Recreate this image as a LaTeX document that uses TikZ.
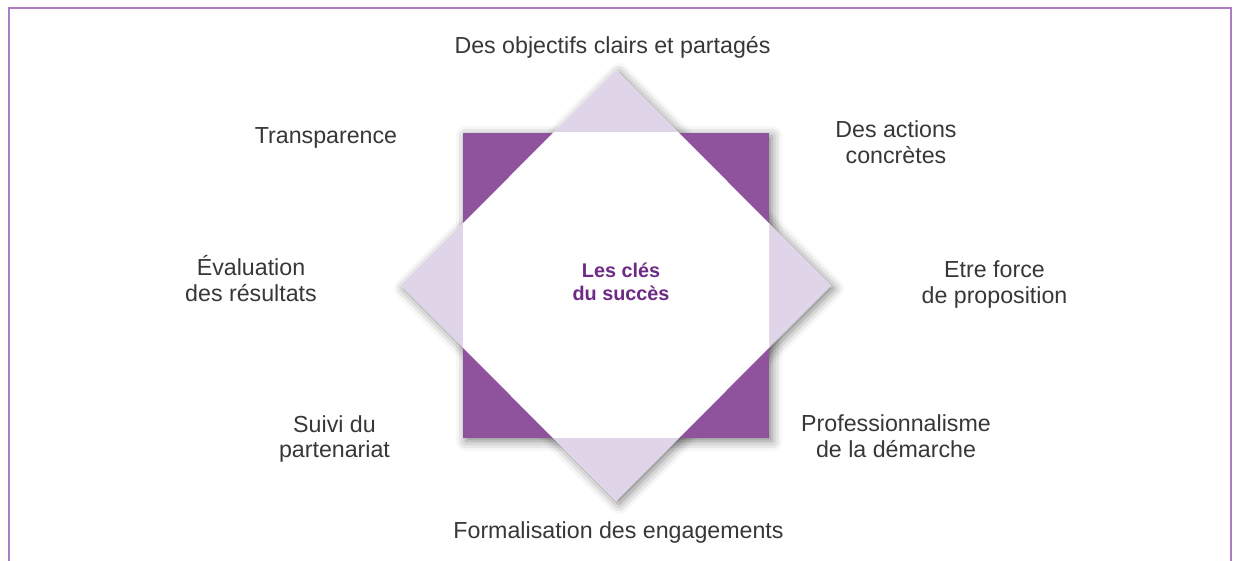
\documentclass[tikz,border=0pt]{standalone}
\usepackage{fontspec}
\setmainfont{Liberation Sans}
\usetikzlibrary{positioning,shadows.blur}
\definecolor{KeyPurple}{RGB}{143,83,158}
\definecolor{KeyLilac}{RGB}{224,212,232}
\definecolor{KeyTitle}{RGB}{110,42,133}
\definecolor{KeyFrame}{RGB}{172,124,196}
\definecolor{KeyGray}{RGB}{55,55,55}

\begin{document}
\begin{tikzpicture}[
    x=0.5pt, y=-0.5pt,
    font=\fontsize{11.6}{13}\selectfont,
    keylabel/.style={text=KeyGray, align=center, inner sep=0pt},
    keytitle/.style={text=KeyTitle, align=center, inner sep=0pt,
                     font=\fontsize{9.9}{11.5}\selectfont\bfseries},
    shadowed/.style={fill=white, blur shadow={shadow xshift=1.5pt, shadow yshift=-1.5pt,
                     shadow blur radius=5pt, shadow opacity=50}}
  ]
  \useasboundingbox (0,0) rectangle (1238,561);
  % frame
  \draw[KeyFrame, line width=1pt] (8.5,561) -- (8.5,8.5) -- (1231,8.5) -- (1231,561);

  % square and diamond
  \coordinate (sqnw) at (463,133);
  \coordinate (sqse) at (769,438);
  \coordinate (dtop) at (616,70);
  \coordinate (dright) at (831,285.5);
  \coordinate (dbottom) at (616,501);
  \coordinate (dleft) at (401,285.5);

  \path[shadowed] (sqnw) rectangle (sqse);
  \path[shadowed] (dtop) -- (dright) -- (dbottom) -- (dleft) -- cycle;
  \fill[KeyPurple] (sqnw) rectangle (sqse);
  \fill[KeyLilac] (dtop) -- (dright) -- (dbottom) -- (dleft) -- cycle;
  \begin{scope}
    \clip (sqnw) rectangle (sqse);
    \fill[white] (dtop) -- (dright) -- (dbottom) -- (dleft) -- cycle;
  \end{scope}

  % texts
  \node[keytitle] (keys) at (621,281.5) {Les clés\\du succès};
  \node[keylabel] (goals) at (612.5,47) {Des objectifs clairs et partagés};
  \node[keylabel] (actions) at (896,142) {Des actions\\concrètes};
  \node[keylabel] (force) at (994.5,284.5) {Etre force\\de proposition};
  \node[keylabel] (method) at (896,436.5) {Professionnalisme\\de la démarche};
  \node[keylabel] (commit) at (618.5,533) {Formalisation des engagements};
  \node[keylabel] (followup) at (334.5,439) {Suivi du\\partenariat};
  \node[keylabel] (review) at (251,279) {Évaluation\\des résultats};
  \node[keylabel] (openness) at (326,137.5) {Transparence};
\end{tikzpicture}
\end{document}
